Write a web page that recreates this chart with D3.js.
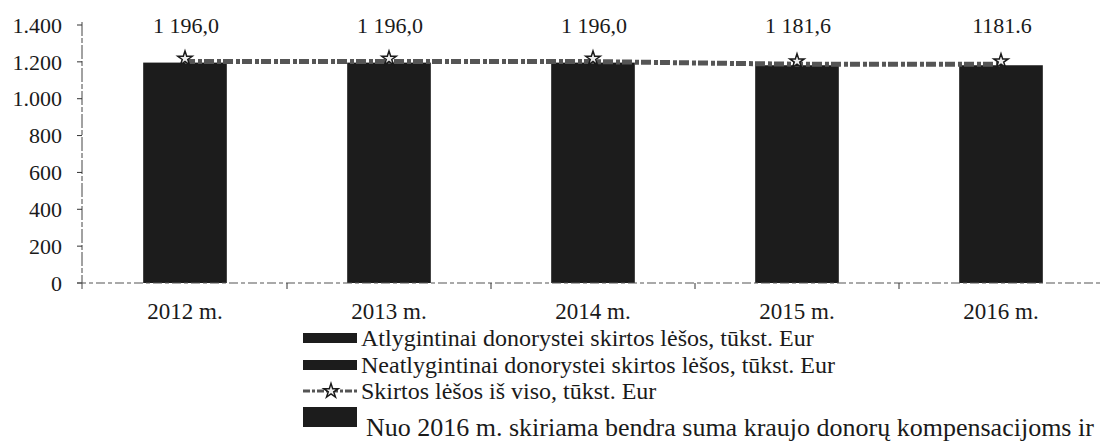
<!DOCTYPE html>
<html>
<head>
<meta charset="utf-8">
<script src="https://cdn.jsdelivr.net/npm/d3@7"></script>
<style>
  body { margin: 0; background: #fff; }
</style>
</head>
<body>
<script>
// Years on the x axis
const years = ["2012 m.", "2013 m.", "2014 m.", "2015 m.", "2016 m."]
// Total funds per year, thousand Eur (bars are drawn as one block, the split is not readable)
const barTotals = [1196.0, 1196.0, 1196.0, 1181.6, 1181.6]
// Series each bar belongs to (from 2016 one common sum)
const barSeries = ["paid", "paid", "paid", "paid", "common"]
// "Skirtos lėšos iš viso" line
const lineTotals = [1196.0, 1196.0, 1196.0, 1181.6, 1181.6]
// Labels printed above the bars, as in the source
const valueLabels = ["1 196,0", "1 196,0", "1 196,0", "1 181,6", "1181.6"]
const yTicks = [0, 200, 400, 600, 800, 1000, 1200, 1400]
const legendItems = [
    {key: "paid", kind: "bar", text: "Atlygintinai donorystei skirtos lėšos, tūkst. Eur"},
    {key: "unpaid", kind: "bar", text: "Neatlygintinai donorystei skirtos lėšos, tūkst. Eur"},
    {key: "total", kind: "line", text: "Skirtos lėšos iš viso, tūkst. Eur"},
    {key: "common", kind: "bar", text: "Nuo 2016 m. skiriama bendra suma kraujo donorų kompensacijoms ir"}
]

let width = 1100
let height = 444
let dark = "#1c1c1c"
let serif = "'Liberation Serif', 'DejaVu Serif', serif"

let svg = d3.select("body").append("svg")
    .attr("width", width)
    .attr("height", height)
    .attr("font-family", serif)
    .style("font-family", serif)

let x = d3.scaleBand()
    .domain(years)
    .range([83, 1103])
    .paddingInner(0.59)
    .paddingOuter(0.295)

let y = d3.scaleLinear()
    .domain([0, 1400])
    .range([283, 25])

let fmt = d3.formatLocale({decimal: ",", thousands: ".", grouping: [3], currency: ["", ""]}).format(",")

// y axis: thin broken line, small ticks on the left
let yAxis = svg.append("g").attr("transform", "translate(82,0)")
yAxis.append("line")
    .attr("y1", y(1400) - 3).attr("y2", y(0) + 6)
    .attr("stroke", "#444").attr("stroke-width", 1)
    .attr("stroke-dasharray", "14,2,5,2")
yAxis.selectAll(".tk").data(yTicks).join("line")
    .attr("x1", -5).attr("x2", 0)
    .attr("y1", d => y(d)).attr("y2", d => y(d))
    .attr("stroke", "#333")
yAxis.selectAll(".lb").data(yTicks).join("text")
    .attr("x", -20)
    .attr("y", d => y(d))
    .attr("dy", "0.35em")
    .attr("text-anchor", "end")
    .attr("fill", "#1a1a1a")
    .style("font-size", "22px")
    .text(d => fmt(d))

// bars
svg.selectAll(".bar").data(barTotals).join("rect")
    .attr("x", (d, i) => x(years[i]))
    .attr("width", x.bandwidth())
    .attr("y", d => y(d))
    .attr("height", d => y(0) - y(d))
    .attr("fill", dark)
    .attr("data-series", (d, i) => barSeries[i])

// x axis: dashed baseline with ticks between categories
let xAxis = svg.append("g")
xAxis.append("line")
    .attr("x1", 77).attr("x2", width)
    .attr("y1", y(0)).attr("y2", y(0))
    .attr("stroke", "#555").attr("stroke-width", 1.2)
    .attr("stroke-dasharray", "9,3,4,3")
xAxis.selectAll(".tk").data(years.slice(0, -1)).join("line")
    .attr("x1", d => x(d) + x.step() * 0.5 + x.bandwidth() / 2)
    .attr("x2", d => x(d) + x.step() * 0.5 + x.bandwidth() / 2)
    .attr("y1", y(0)).attr("y2", y(0) + 6)
    .attr("stroke", "#333")
xAxis.selectAll(".lb").data(years).join("text")
    .attr("x", d => x(d) + x.bandwidth() / 2)
    .attr("y", 319)
    .attr("text-anchor", "middle")
    .attr("fill", "#1a1a1a")
    .style("font-size", "23px")
    .text(d => d)

// total line with star markers
let line = d3.line()
    .x((d, i) => x(years[i]) + x.bandwidth() / 2)
    .y(d => y(d) - 1)
svg.append("path")
    .datum(lineTotals)
    .attr("d", line)
    .attr("fill", "none")
    .attr("stroke", "#555")
    .attr("stroke-width", 5)
    .attr("stroke-dasharray", "10,3,4,2")

let star = d3.symbol().type(d3.symbolStar).size(65)
svg.selectAll(".mk").data(lineTotals).join("path")
    .attr("d", star)
    .attr("transform", (d, i) => `translate(${x(years[i]) + x.bandwidth() / 2},${y(d) - 4})`)
    .attr("fill", "#eee")
    .attr("stroke", "#1a1a1a")
    .attr("stroke-width", 1.5)

// value labels above
svg.selectAll(".val").data(valueLabels).join("text")
    .attr("x", (d, i) => x(years[i]) + x.bandwidth() / 2 + 1)
    .attr("y", y(1400))
    .attr("dy", "0.35em")
    .attr("text-anchor", "middle")
    .attr("fill", "#1a1a1a")
    .style("font-size", "22px")
    .text(d => d)

// legend
let rowY = [338, 365, 391, 427]
let swY = [333, 360, 0, 407]
let swH = [10, 10, 0, 20]
let fontSz = [24, 24, 24, 26]
let legend = svg.append("g")
legendItems.forEach((item, i) => {
    if (item.kind === "bar") {
        legend.append("rect")
            .attr("x", 303).attr("width", 54)
            .attr("y", swY[i]).attr("height", swH[i])
            .attr("fill", dark)
    } else {
        legend.append("line")
            .attr("x1", 303).attr("x2", 358)
            .attr("y1", rowY[i]).attr("y2", rowY[i])
            .attr("stroke", "#555").attr("stroke-width", 3)
            .attr("stroke-dasharray", "7,2,3,2")
        legend.append("path")
            .attr("d", star)
            .attr("transform", `translate(331,${rowY[i]})`)
            .attr("fill", "#eee").attr("stroke", "#1a1a1a").attr("stroke-width", 1.5)
    }
    legend.append("text")
        .attr("x", i === 3 ? 366 : 361)
        .attr("y", rowY[i])
        .attr("dy", "0.35em")
        .attr("fill", "#1a1a1a")
        .style("font-size", fontSz[i] + "px")
        .text(item.text)
})
</script>
</body>
</html>
